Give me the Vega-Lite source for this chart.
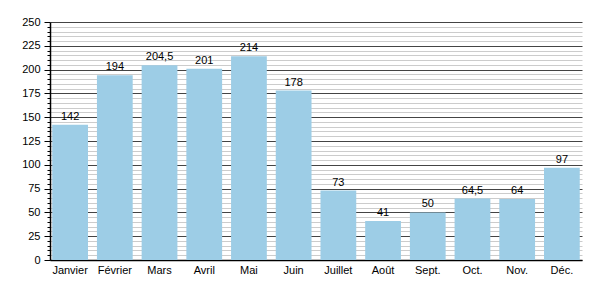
{
  "$schema": "https://vega.github.io/schema/vega-lite/v6.json",
  "width": 532,
  "height": 238,
  "autosize": "none",
  "padding": {"left": 50, "top": 22, "right": 18, "bottom": 40},
  "config": {
    "locale": {"number": {"decimal": ",", "thousands": " ", "grouping": [3], "currency": ["", " €"]}},
    "view": {"stroke": null},
    "font": "Liberation Sans"
  },
  "data": {
    "values": [
      {"mois": "Janvier", "valeur": 142},
      {"mois": "Février", "valeur": 194},
      {"mois": "Mars", "valeur": 204.5},
      {"mois": "Avril", "valeur": 201},
      {"mois": "Mai", "valeur": 214},
      {"mois": "Juin", "valeur": 178},
      {"mois": "Juillet", "valeur": 73},
      {"mois": "Août", "valeur": 41},
      {"mois": "Sept.", "valeur": 50},
      {"mois": "Oct.", "valeur": 64.5},
      {"mois": "Nov.", "valeur": 64},
      {"mois": "Déc.", "valeur": 97}
    ]
  },
  "encoding": {
    "x": {
      "field": "mois", "type": "nominal", "sort": null,
      "scale": {"paddingInner": 0.2, "paddingOuter": 0.05},
      "axis": {"title": null, "labelAngle": 0, "ticks": false, "domainColor": "black", "domainWidth": 1.5, "labelColor": "black", "labelFontSize": 11, "labelPadding": 4}
    },
    "y": {
      "field": "valeur", "type": "quantitative",
      "scale": {"domain": [0, 250], "nice": false},
      "axis": {
        "title": null,
        "values": [0,5,10,15,20,25,30,35,40,45,50,55,60,65,70,75,80,85,90,95,100,105,110,115,120,125,130,135,140,145,150,155,160,165,170,175,180,185,190,195,200,205,210,215,220,225,230,235,240,245,250],
        "labelExpr": "datum.value % 25 === 0 ? datum.label : ''",
        "grid": true,
        "gridColor": {"condition": {"test": "datum.value % 25 === 0", "value": "#444444"}, "value": "#cccccc"},
        "gridOpacity": 1,
        "gridWidth": 1,
        "tickColor": "black",
        "tickSize": {"condition": {"test": "datum.value % 25 === 0", "value": 6}, "value": 3},
        "domainColor": "black",
        "domainWidth": 1.5,
        "labelColor": "black",
        "labelFontSize": 11,
        "labelPadding": 4
      }
    }
  },
  "layer": [
    {"mark": {"type": "bar", "color": "#9dcde6"}},
    {
      "mark": {"type": "text", "baseline": "bottom", "dy": -3, "fontSize": 11, "color": "black"},
      "encoding": {"text": {"field": "valeur", "type": "quantitative", "format": ".1~f"}}
    }
  ]
}
